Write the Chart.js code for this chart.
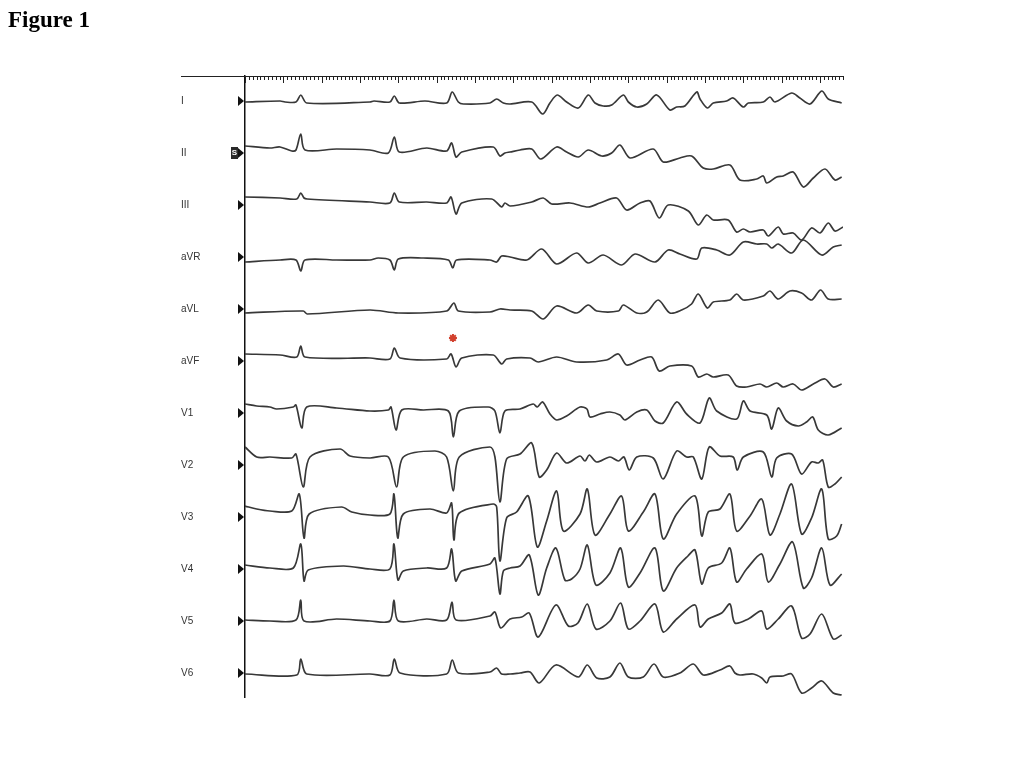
<!DOCTYPE html>
<html>
<head>
<meta charset="utf-8">
<script src="https://cdn.jsdelivr.net/npm/chart.js@4.4.1/dist/chart.umd.min.js"></script>
<style>
  html, body { margin: 0; padding: 0; background: #fff; }
  #wrap { position: relative; width: 1024px; height: 768px; }
  #title { position: absolute; left: 8px; top: 8px; font: bold 23px "Liberation Serif", "Times New Roman", serif; color: #000; line-height: 1; }
</style>
</head>
<body>
<div id="wrap">
  <div id="title">Figure 1</div>
  <canvas id="ecg" width="1024" height="768"></canvas>
</div>
<script>
// lead names, top to bottom
const leadNames = ['I', 'II', 'III', 'aVR', 'aVL', 'aVF', 'V1', 'V2', 'V3', 'V4', 'V5', 'V6'];

// traces: [time (ms), amplitude (a.u.)]
const leadI = [[0,-1],[183,0],[209,-1],[266,-1],[291,6],[322,-2],[652,-1],[673,0],[756,-1],[779,5],[805,-2],[939,0],[1052,-2],[1081,9],[1113,-1],[1139,-3],[1278,-2],[1313,2],[1348,-2],[1383,-3],[1496,-1],[1553,-13],[1591,-2],[1629,6],[1678,-1],[1739,-7],[1791,6],[1826,-2],[1869,-5],[1913,-4],[1974,6],[2000,-1],[2044,-6],[2096,-3],[2148,6],[2217,-9],[2252,-6],[2295,-5],[2357,9],[2374,2],[2412,-7],[2443,-2],[2513,0],[2547,3],[2600,-6],[2626,-2],[2704,-1],[2739,4],[2765,-1],[2852,8],[2895,3],[2948,-3],[3009,10],[3043,2],[3113,-2]];
const leadII = [[0,7],[130,5],[183,6],[244,2],[266,3],[291,19],[313,3],[478,4],[652,3],[748,0],[779,16],[805,1],[948,5],[1052,2],[1078,10],[1101,-4],[1131,1],[1295,6],[1330,-3],[1356,0],[1383,1],[1435,3],[1496,4],[1543,-6],[1626,6],[1678,1],[1739,-4],[1791,3],[1861,-3],[1913,0],[1956,8],[2009,-5],[2130,4],[2182,-9],[2269,-5],[2330,-3],[2391,-15],[2443,-16],[2530,-12],[2582,-27],[2670,-26],[2704,-23],[2722,-30],[2774,-24],[2808,-23],[2860,-19],[2913,-34],[2965,-25],[3026,-16],[3078,-27],[3113,-24]];
const leadIII = [[0,8],[183,7],[270,6],[291,12],[308,7],[325,6],[652,3],[756,2],[779,12],[805,3],[948,3],[1052,2],[1075,8],[1101,-9],[1131,2],[1287,6],[1339,-2],[1356,2],[1383,-1],[1496,3],[1556,7],[1600,1],[1696,2],[1791,-2],[1852,2],[1939,7],[1991,-5],[2061,2],[2113,4],[2161,-13],[2208,0],[2313,-6],[2365,-20],[2409,-10],[2443,-15],[2521,-15],[2565,-27],[2600,-24],[2635,-27],[2704,-25],[2730,-31],[2782,-22],[2808,-29],[2860,-28],[2904,-35],[2956,-23],[3000,-28],[3043,-18],[3078,-26],[3120,-22]];
const leadAVR = [[0,-5],[183,-3],[266,-3],[291,-14],[313,-3],[478,-3],[652,-3],[695,-1],[756,-3],[779,-13],[800,-2],[930,-1],[1061,-3],[1084,-11],[1104,-3],[1278,-3],[1313,-5],[1339,1],[1383,0],[1470,-3],[1548,8],[1626,-7],[1730,4],[1791,-6],[1869,2],[1965,-8],[2035,3],[2139,-5],[2208,7],[2269,3],[2357,-2],[2383,9],[2461,7],[2530,2],[2600,15],[2670,13],[2722,13],[2748,9],[2782,13],[2852,4],[2913,17],[3009,2],[3069,10],[3113,12]];
const leadAVL = [[0,-4],[304,-2],[325,-5],[652,-1],[800,-4],[1052,-2],[1090,6],[1113,-2],[1278,-3],[1330,0],[1383,-1],[1496,-2],[1556,-10],[1626,3],[1730,-4],[1791,4],[1835,-2],[1948,-2],[1974,4],[2044,-4],[2096,-3],[2156,9],[2217,-4],[2278,-1],[2330,5],[2365,15],[2412,1],[2443,7],[2530,9],[2565,15],[2600,9],[2704,13],[2739,18],[2782,10],[2843,18],[2904,16],[2956,9],[3003,19],[3043,10],[3113,10]];
const leadAVF = [[0,7],[183,6],[270,4],[291,15],[313,4],[652,3],[756,2],[779,13],[809,3],[1052,2],[1075,7],[1101,-6],[1131,3],[1295,6],[1339,-3],[1365,2],[1487,3],[1530,-1],[1626,4],[1730,-1],[1887,1],[1948,7],[1991,-4],[2061,1],[2122,4],[2161,-10],[2217,-5],[2330,-5],[2365,-16],[2409,-13],[2443,-16],[2521,-14],[2565,-25],[2617,-26],[2687,-23],[2722,-26],[2774,-22],[2808,-26],[2860,-23],[2904,-29],[2965,-23],[3026,-18],[3069,-26],[3113,-23]];
const leadV1 = [[0,9],[61,7],[130,6],[165,4],[252,6],[266,8],[296,-15],[322,6],[478,5],[652,2],[748,3],[762,6],[788,-17],[818,3],[930,3],[1061,2],[1087,-24],[1118,2],[1269,6],[1304,2],[1330,-20],[1356,2],[1435,4],[1504,9],[1525,6],[1553,11],[1591,-1],[1626,-7],[1678,-3],[1748,6],[1784,4],[1800,-4],[1852,-1],[1904,1],[1956,-2],[1982,-7],[2044,1],[2096,3],[2139,-8],[2182,-10],[2252,11],[2304,-1],[2374,-10],[2422,15],[2461,2],[2565,-6],[2600,12],[2635,2],[2722,-2],[2748,-16],[2782,5],[2826,-8],[2887,-13],[2930,-9],[2962,-4],[2991,-17],[3043,-22],[3113,-15]];
const leadV2 = [[0,18],[61,8],[130,8],[244,7],[266,11],[304,-22],[339,8],[496,16],[548,9],[652,7],[748,8],[791,-22],[826,8],[991,14],[1052,8],[1087,-26],[1118,8],[1278,18],[1304,8],[1330,-37],[1365,6],[1435,11],[1496,22],[1535,-12],[1574,-5],[1626,12],[1678,2],[1748,9],[1774,4],[1796,10],[1835,3],[1904,8],[1948,4],[1977,8],[2005,-5],[2044,8],[2130,7],[2182,-14],[2252,14],[2304,8],[2339,8],[2383,-14],[2422,18],[2478,9],[2547,8],[2568,-5],[2600,8],[2704,13],[2748,-12],[2774,7],[2852,11],[2904,-9],[2956,3],[2991,2],[3014,5],[3043,-22],[3078,-19],[3113,-12]];
const leadV3 = [[0,11],[61,8],[130,6],[244,6],[283,23],[308,-21],[335,3],[504,10],[557,5],[652,2],[756,3],[777,23],[797,-21],[826,3],[965,8],[1052,4],[1078,14],[1090,-23],[1118,4],[1295,13],[1313,10],[1330,-44],[1365,-1],[1417,5],[1478,21],[1525,-30],[1574,-4],[1626,26],[1661,-14],[1748,3],[1786,28],[1826,-18],[1904,3],[1965,21],[2000,-14],[2078,5],[2139,23],[2182,-22],[2252,3],[2348,21],[2383,-19],[2417,5],[2478,8],[2530,23],[2565,-14],[2635,1],[2696,18],[2739,-18],[2791,3],[2852,33],[2904,-17],[2956,-1],[3009,28],[3043,-22],[3087,-19],[3113,-7]];
const leadV4 = [[0,4],[130,1],[252,1],[291,25],[308,-12],[330,-1],[513,3],[652,0],[756,0],[777,25],[798,-11],[826,-2],[948,1],[1052,1],[1078,20],[1099,-12],[1131,-2],[1278,5],[1304,11],[1330,-25],[1348,-2],[1383,1],[1435,3],[1483,14],[1530,-26],[1574,1],[1622,21],[1669,-11],[1704,-10],[1748,0],[1786,24],[1831,-16],[1904,-4],[1960,21],[2000,-18],[2061,-4],[2139,21],[2182,-22],[2252,1],[2311,13],[2348,19],[2383,-15],[2417,1],[2487,6],[2530,21],[2565,-13],[2617,0],[2696,15],[2730,-13],[2791,5],[2857,27],[2913,-19],[2956,-9],[3009,21],[3052,-16],[3113,-5]];
const leadV5 = [[0,1],[130,0],[266,1],[291,21],[308,0],[478,2],[652,0],[756,0],[777,21],[800,0],[948,2],[1052,1],[1080,19],[1101,1],[1278,5],[1304,9],[1334,-7],[1383,2],[1444,4],[1483,8],[1530,-16],[1622,16],[1687,-5],[1737,-2],[1786,17],[1831,-8],[1904,0],[1960,18],[2000,-8],[2061,0],[2139,17],[2182,-11],[2252,2],[2348,16],[2374,-6],[2417,2],[2487,8],[2530,17],[2556,-2],[2626,2],[2696,10],[2722,-8],[2782,2],[2852,15],[2904,-17],[2948,-13],[3009,7],[3069,-18],[3113,-14]];
const leadV6 = [[0,-1],[270,-2],[291,14],[322,-1],[652,-1],[756,-2],[779,14],[809,0],[1052,-1],[1081,13],[1113,0],[1278,1],[1313,5],[1339,-1],[1383,-1],[1435,0],[1487,1],[1535,-10],[1622,8],[1739,-4],[1786,8],[1835,-5],[1904,-4],[1956,10],[2000,-4],[2078,-4],[2134,9],[2182,-4],[2269,0],[2339,9],[2391,-2],[2478,3],[2530,7],[2556,0],[2582,-2],[2652,-1],[2696,-5],[2722,-10],[2739,-4],[2808,-3],[2852,-1],[2904,-20],[2956,-15],[3009,-8],[3069,-20],[3113,-22]];

const leadData = [leadI, leadII, leadIII, leadAVR, leadAVL, leadAVF, leadV1, leadV2, leadV3, leadV4, leadV5, leadV6];

// red asterisk over the aVF beat
const markerLead = 'aVF';
const markerTime = [1085];
const markerHeight = [23];

// time ruler (ms)
const rulerEnd = 3120;
const minorStep = 20;
const majorStep = 200;

const rowStep = 52; // vertical spacing between leads

const traceColor = '#383838';

const datasets = leadData.map((pts, k) => ({
    label: leadNames[k],
    data: pts.map(p => ({ x: p[0], y: p[1] - k * rowStep })),
    borderColor: traceColor,
    borderWidth: 1.7,
    borderJoinStyle: 'round',
    pointRadius: 0,
    fill: false,
    tension: 0.3
}));

const mk = leadNames.indexOf(markerLead);
datasets.push({
    label: 'marker',
    data: markerTime.map((t, i) => ({ x: t, y: markerHeight[i] - mk * rowStep })),
    showLine: false,
    pointStyle: 'star',
    pointRadius: 4,
    borderColor: '#d2412e',
    borderWidth: 2
});

// ruler, baseline triangles and the "S" tag on lead II
const ecgDecor = {
    id: 'ecgDecor',
    afterDraw(chart) {
        const { ctx, chartArea: a, scales: { x, y } } = chart;
        ctx.save();
        ctx.strokeStyle = '#222';
        ctx.lineWidth = 1;
        ctx.beginPath();
        ctx.moveTo(y.left, a.top + 0.5);
        ctx.lineTo(a.right, a.top + 0.5);
        ctx.stroke();
        for (let t = 0; t <= rulerEnd; t += minorStep) {
            const px = Math.round(x.getPixelForValue(t)) + 0.5;
            const len = t % majorStep === 0 ? 7 : 4;
            ctx.beginPath();
            ctx.moveTo(px, a.top);
            ctx.lineTo(px, a.top + len);
            ctx.stroke();
        }

        ctx.fillStyle = '#111';
        leadNames.forEach((n, k) => {
            const py = y.getPixelForValue(-k * rowStep);
            ctx.beginPath();
            ctx.moveTo(a.left - 7, py - 5);
            ctx.lineTo(a.left - 1, py);
            ctx.lineTo(a.left - 7, py + 5);
            ctx.closePath();
            ctx.fill();
        });

        const sy = y.getPixelForValue(-1 * rowStep);
        ctx.fillStyle = '#2a2a2a';
        ctx.fillRect(a.left - 14, sy - 6, 7, 12);
        ctx.fillStyle = '#fff';
        ctx.font = 'bold 8px "Liberation Sans", Arial, sans-serif';
        ctx.textAlign = 'center';
        ctx.textBaseline = 'middle';
        ctx.fillText('S', a.left - 10.5, sy);
        ctx.restore();
    }
};

new Chart(document.getElementById('ecg').getContext('2d'), {
    type: 'line',
    data: { datasets: datasets },
    options: {
        responsive: false,
        animation: false,
        layout: { padding: { left: 181, top: 76, right: 181, bottom: 71 } },
        plugins: {
            legend: { display: false },
            tooltip: { enabled: false }
        },
        scales: {
            x: {
                type: 'linear',
                min: 0,
                max: rulerEnd,
                display: false
            },
            y: {
                type: 'linear',
                min: -596,
                max: 25,
                grid: { display: false, drawTicks: false },
                border: { display: true, color: '#111', width: 1.5 },
                afterFit: (scale) => { scale.width = 64; },
                afterBuildTicks: (scale) => {
                    scale.ticks = leadNames.map((n, k) => ({ value: -k * rowStep }));
                },
                ticks: {
                    autoSkip: false,
                    crossAlign: 'far',
                    color: '#333',
                    font: { family: '"Liberation Sans", Arial, sans-serif', size: 10 },
                    callback: (v) => leadNames[Math.round(-v / rowStep)]
                }
            }
        }
    },
    plugins: [ecgDecor]
});
</script>
</body>
</html>
